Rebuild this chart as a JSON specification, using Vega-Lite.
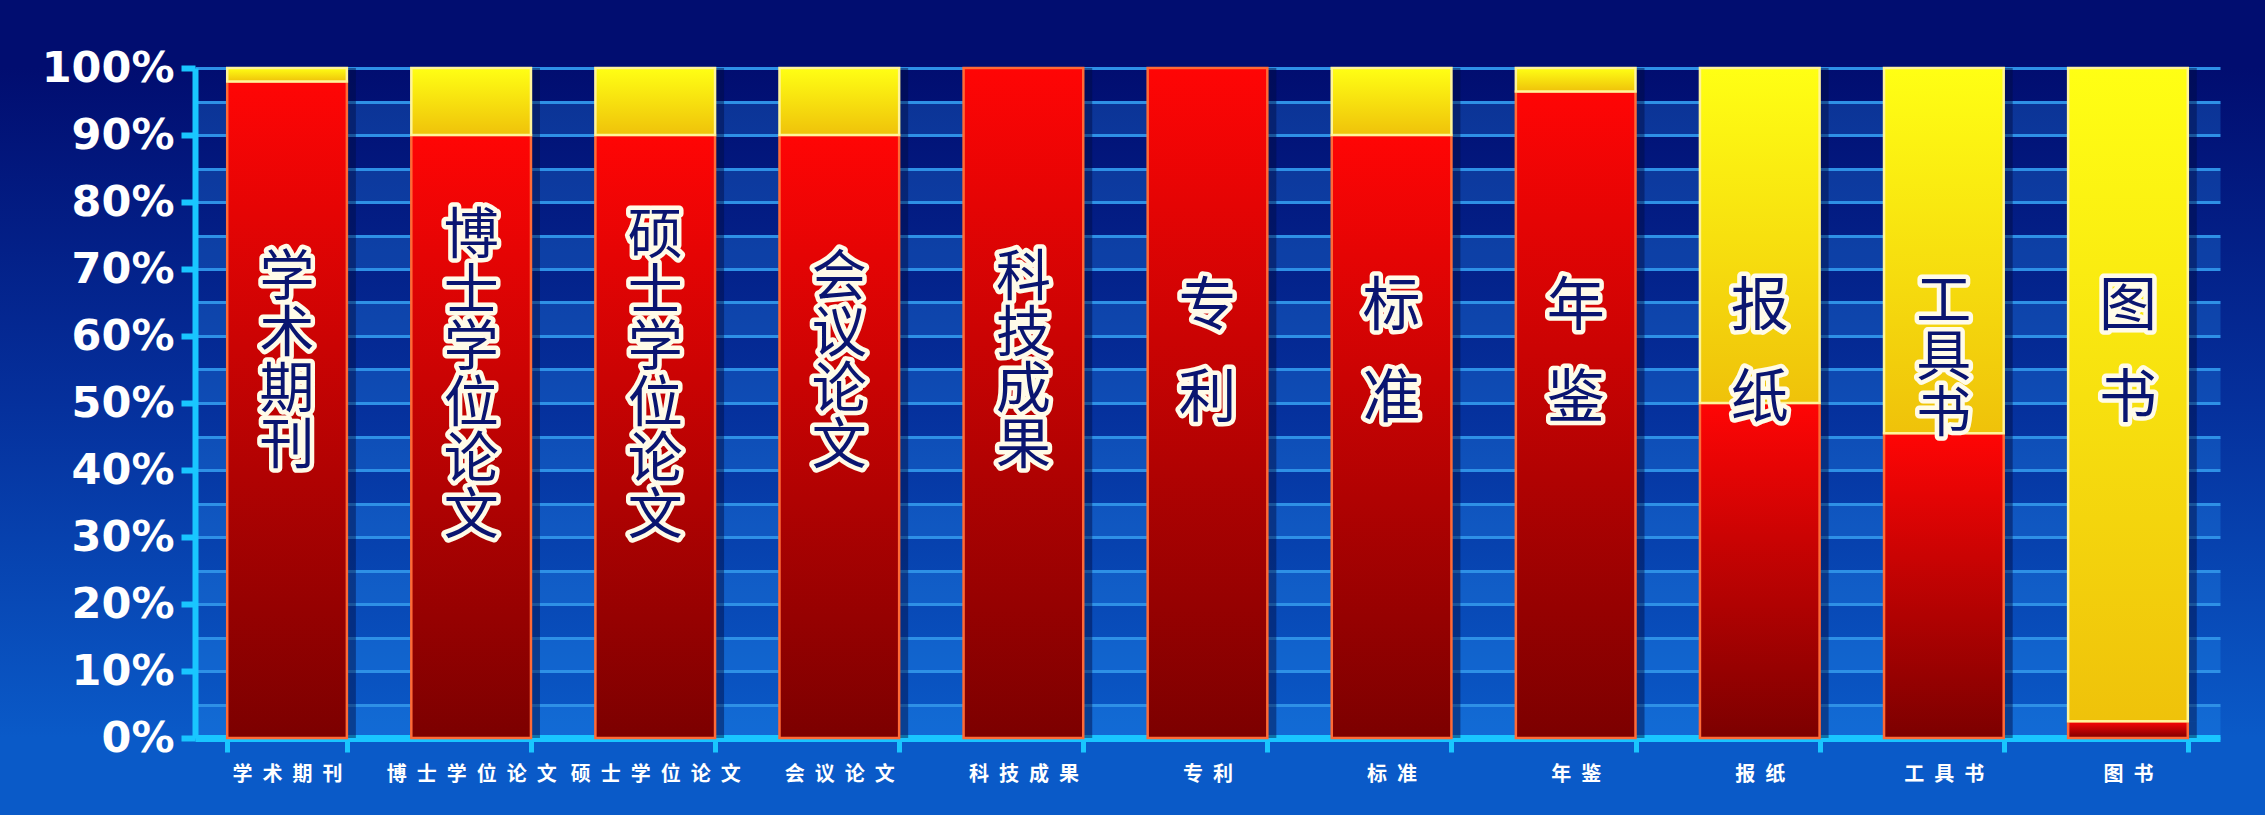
{
  "$schema": "https://vega.github.io/schema/vega-lite/v6.json",
  "width": 2025,
  "height": 670,
  "autosize": {"type": "none"},
  "padding": {"left": 195, "top": 68, "right": 45, "bottom": 77},
  "background": "#05309c",
  "config": {
    "view": {
      "fill": {"gradient": "linear", "x1": 0, "y1": 0, "x2": 0, "y2": 1, "stops": [{"offset": 0, "color": "#010d70"}, {"offset": 0.5, "color": "#05309c"}, {"offset": 1, "color": "#0a5ac8"}]},
      "stroke": {"gradient": "linear", "x1": 0, "y1": 0, "x2": 0, "y2": 1, "stops": [{"offset": 0, "color": "#010d70"}, {"offset": 0.5, "color": "#05309c"}, {"offset": 1, "color": "#0a5ac8"}]},
      "strokeWidth": 420
    }
  },
  "datasets": {
    "segments": [
      {"类型": "学术期刊", "系列": "系列1", "比例": 98},
      {"类型": "学术期刊", "系列": "系列2", "比例": 2},
      {"类型": "博士学位论文", "系列": "系列1", "比例": 90},
      {"类型": "博士学位论文", "系列": "系列2", "比例": 10},
      {"类型": "硕士学位论文", "系列": "系列1", "比例": 90},
      {"类型": "硕士学位论文", "系列": "系列2", "比例": 10},
      {"类型": "会议论文", "系列": "系列1", "比例": 90},
      {"类型": "会议论文", "系列": "系列2", "比例": 10},
      {"类型": "科技成果", "系列": "系列1", "比例": 100},
      {"类型": "专利", "系列": "系列1", "比例": 100},
      {"类型": "标准", "系列": "系列1", "比例": 90},
      {"类型": "标准", "系列": "系列2", "比例": 10},
      {"类型": "年鉴", "系列": "系列1", "比例": 96.5},
      {"类型": "年鉴", "系列": "系列2", "比例": 3.5},
      {"类型": "报纸", "系列": "系列1", "比例": 50},
      {"类型": "报纸", "系列": "系列2", "比例": 50},
      {"类型": "工具书", "系列": "系列1", "比例": 45.5},
      {"类型": "工具书", "系列": "系列2", "比例": 54.5},
      {"类型": "图书", "系列": "系列1", "比例": 2.5},
      {"类型": "图书", "系列": "系列2", "比例": 97.5}
    ],
    "labels": [
      {"类型": "学术期刊", "竖排": "学\n术\n期\n刊"},
      {"类型": "博士学位论文", "竖排": "博\n士\n学\n位\n论\n文"},
      {"类型": "硕士学位论文", "竖排": "硕\n士\n学\n位\n论\n文"},
      {"类型": "会议论文", "竖排": "会\n议\n论\n文"},
      {"类型": "科技成果", "竖排": "科\n技\n成\n果"},
      {"类型": "专利", "竖排": "专\n利"},
      {"类型": "标准", "竖排": "标\n准"},
      {"类型": "年鉴", "竖排": "年\n鉴"},
      {"类型": "报纸", "竖排": "报\n纸"},
      {"类型": "工具书", "竖排": "工\n具\n书"},
      {"类型": "图书", "竖排": "图\n书"}
    ]
  },
  "encoding": {
    "x": {
      "field": "类型",
      "type": "nominal",
      "sort": ["学术期刊", "博士学位论文", "硕士学位论文", "会议论文", "科技成果", "专利", "标准", "年鉴", "报纸", "工具书", "图书"],
      "scale": {"paddingInner": 0.35, "paddingOuter": 0.175},
      "axis": {
        "title": null,
        "labelAngle": 0,
        "labelExpr": "join(split(datum.label, ''), '\u2002')",
        "labelColor": "#ffffff",
        "labelFont": "Noto Sans CJK SC",
        "labelFontWeight": "bold",
        "labelFontSize": 20,
        "labelPadding": 12,
        "domainColor": "#19c6ff",
        "domainWidth": 7,
        "tickColor": "#19c6ff",
        "tickWidth": 5,
        "tickSize": 14,
        "tickBand": "extent",
        "grid": false
      }
    }
  },
  "layer": [
    {
      "data": {"name": "segments"},
      "mark": {"type": "bar", "fill": "#000a40", "fillOpacity": 0.45, "xOffset": 9, "stroke": null},
      "encoding": {
        "y": {
          "field": "比例",
          "type": "quantitative",
          "stack": "zero",
          "scale": {"domain": [0, 100], "nice": false},
          "axis": {
            "title": null,
            "values": [0, 2.5, 5, 10, 12.5, 15, 20, 22.5, 25, 30, 32.5, 35, 40, 42.5, 45, 50, 52.5, 55, 60, 62.5, 65, 70, 72.5, 75, 80, 82.5, 85, 90, 92.5, 95, 100],
            "tickCount": 100,
            "labelExpr": "datum.value % 10 === 0 ? datum.value + '%' : ''",
            "labelColor": "#ffffff",
            "labelFont": "DejaVu Sans",
            "labelFontWeight": "bold",
            "labelFontSize": 43,
            "labelPadding": 7,
            "labelBound": false,
            "labelOverlap": false,
            "domainColor": "#19c6ff",
            "domainWidth": 6,
            "tickColor": "#19c6ff",
            "tickWidth": 6,
            "tickSize": 14,
            "tickOpacity": {"condition": {"test": "datum.value % 10 === 0", "value": 1}, "value": 0},
            "grid": true,
            "gridColor": {"condition": {"test": "datum.value % 10 === 2.5", "value": "#2a9fff"}, "value": "#2e90e6"},
            "gridOpacity": {"condition": {"test": "datum.value % 10 === 2.5", "value": 0.25}, "value": 1},
            "gridWidth": {"condition": {"test": "datum.value % 10 === 2.5", "value": 31}, "value": 3}
          }
        },
        "order": {"field": "系列", "type": "ordinal"},
        "detail": {"field": "系列"}
      }
    },
    {
      "data": {"name": "segments"},
      "mark": {"type": "bar", "strokeWidth": 2.5},
      "encoding": {
        "y": {"field": "比例", "type": "quantitative", "stack": "zero"},
        "order": {"field": "系列", "type": "ordinal"},
        "detail": {"field": "系列"},
        "fill": {
          "condition": {
            "test": "datum['系列'] === '系列1'",
            "value": {"gradient": "linear", "x1": 0, "y1": 0, "x2": 0, "y2": 1, "stops": [{"offset": 0, "color": "#ff0505"}, {"offset": 1, "color": "#7c0000"}]}
          },
          "value": {"gradient": "linear", "x1": 0, "y1": 0, "x2": 0, "y2": 1, "stops": [{"offset": 0, "color": "#ffff14"}, {"offset": 1, "color": "#efc20a"}]}
        },
        "stroke": {
          "condition": {"test": "datum['系列'] === '系列1'", "value": "#ff6a36"},
          "value": "#fff49a"
        }
      }
    },
    {
      "data": {"name": "labels"},
      "transform": [{"filter": "length(datum['竖排']) === 3"}],
      "encoding": {"y": {"datum": 64.2}, "text": {"field": "竖排"}},
      "layer": [
        {"mark": {"type": "text", "lineBreak": "\n", "font": "Noto Sans CJK SC", "fontSize": 58, "lineHeight": 92, "baseline": "middle", "align": "center", "stroke": "#fffbe8", "strokeWidth": 9, "strokeJoin": "round", "fill": "#fffbe8"}},
        {"mark": {"type": "text", "lineBreak": "\n", "font": "Noto Sans CJK SC", "fontSize": 58, "lineHeight": 92, "baseline": "middle", "align": "center", "fill": "#0a1570"}}
      ]
    },
    {
      "data": {"name": "labels"},
      "transform": [{"filter": "length(datum['竖排']) === 5"}],
      "encoding": {"y": {"datum": 65.1}, "text": {"field": "竖排"}},
      "layer": [
        {"mark": {"type": "text", "lineBreak": "\n", "font": "Noto Sans CJK SC", "fontSize": 55, "lineHeight": 56, "baseline": "middle", "align": "center", "stroke": "#fffbe8", "strokeWidth": 9, "strokeJoin": "round", "fill": "#fffbe8"}},
        {"mark": {"type": "text", "lineBreak": "\n", "font": "Noto Sans CJK SC", "fontSize": 55, "lineHeight": 56, "baseline": "middle", "align": "center", "fill": "#0a1570"}}
      ]
    },
    {
      "data": {"name": "labels"},
      "transform": [{"filter": "length(datum['竖排']) === 7"}],
      "encoding": {"y": {"datum": 68.7}, "text": {"field": "竖排"}},
      "layer": [
        {"mark": {"type": "text", "lineBreak": "\n", "font": "Noto Sans CJK SC", "fontSize": 55, "lineHeight": 56, "baseline": "middle", "align": "center", "stroke": "#fffbe8", "strokeWidth": 9, "strokeJoin": "round", "fill": "#fffbe8"}},
        {"mark": {"type": "text", "lineBreak": "\n", "font": "Noto Sans CJK SC", "fontSize": 55, "lineHeight": 56, "baseline": "middle", "align": "center", "fill": "#0a1570"}}
      ]
    },
    {
      "data": {"name": "labels"},
      "transform": [{"filter": "length(datum['竖排']) === 11"}],
      "encoding": {"y": {"datum": 74.9}, "text": {"field": "竖排"}},
      "layer": [
        {"mark": {"type": "text", "lineBreak": "\n", "font": "Noto Sans CJK SC", "fontSize": 55, "lineHeight": 56, "baseline": "middle", "align": "center", "stroke": "#fffbe8", "strokeWidth": 9, "strokeJoin": "round", "fill": "#fffbe8"}},
        {"mark": {"type": "text", "lineBreak": "\n", "font": "Noto Sans CJK SC", "fontSize": 55, "lineHeight": 56, "baseline": "middle", "align": "center", "fill": "#0a1570"}}
      ]
    }
  ]
}
